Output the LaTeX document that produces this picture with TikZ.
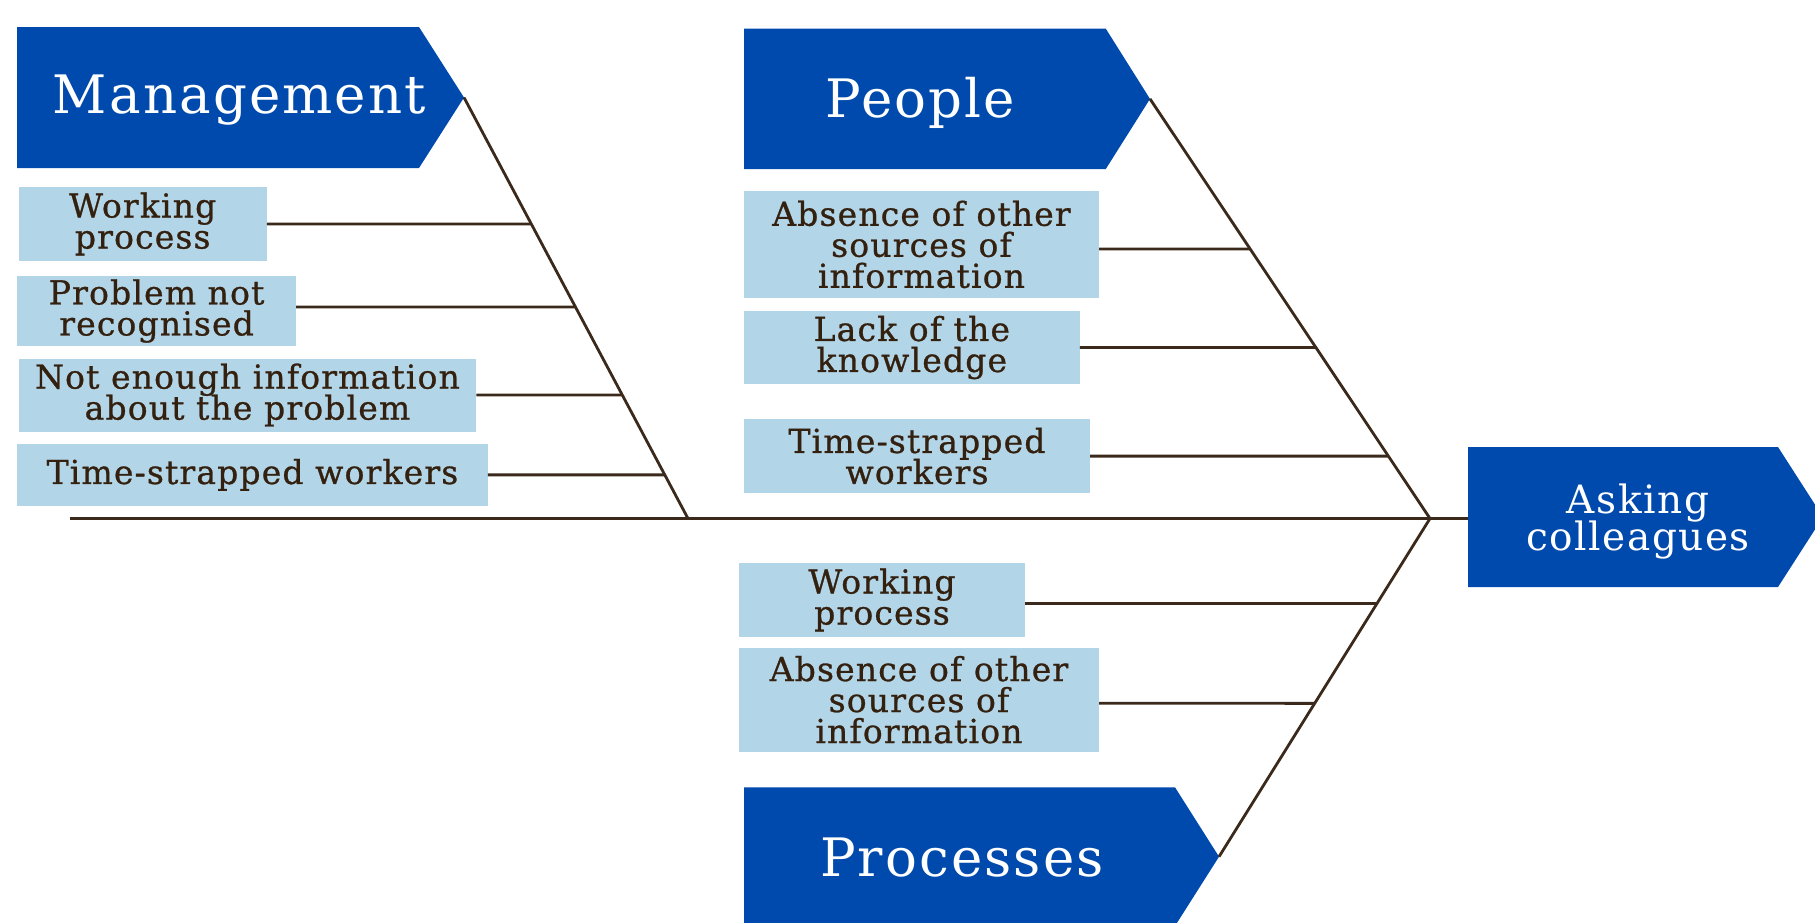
\documentclass[tikz,border=0pt]{standalone}
\usepackage{fontspec}
\newfontfamily\causeface[LetterSpace=3.5,FakeBold=0.8]{DejaVu Serif}
\newfontfamily\headface[LetterSpace=4]{DejaVu Serif}
\lineskiplimit=-100pt
\definecolor{navy}{HTML}{004AAD}
\definecolor{paleblue}{HTML}{B3D5E8}
\definecolor{ink}{HTML}{33200F}
\definecolor{bonecol}{HTML}{3B2A1C}

% a horizontal twig from a cause box to the bone it hangs on
\newcommand\twig[4]{%
  \coordinate (#1a) at ([yshift=#2]#1.east);
  \coordinate (#1b) at ([yshift=#2]#1.west);
  \draw[bone] (#1a) -- (intersection of #1a--#1b and #3--#4);
}

\begin{document}
\begin{tikzpicture}[x=1pt,y=-1pt,
  bone/.style={draw=bonecol,line width=2.8pt},
  cause/.style={fill=paleblue,inner sep=0pt,anchor=north west,align=center,
    text=ink,font=\causeface\fontsize{33}{31}\selectfont},
  head/.style={text=white,inner sep=0pt,align=center,
    font=\headface\fontsize{53}{50}\selectfont},
  sub head/.style={text=white,inner sep=0pt,align=center,
    font=\headface\fontsize{39}{36.7}\selectfont}]
\useasboundingbox (0,0) rectangle (1815,922);
\clip (0,0) rectangle (1815,922);

% category and effect arrows
\coordinate (mtip) at (464,97.5);
\coordinate (ptip) at (1150,98.9);
\coordinate (rtip) at (1219,856.7);
\coordinate (atip) at (1823,517);
\fill[navy] (17,27) -- (419,27) -- (mtip) -- (419,168) -- (17,168) -- cycle;
\fill[navy] (744,28.7) -- (1105.8,28.7) -- (ptip) -- (1105.8,169) -- (744,169) -- cycle;
\fill[navy] (744,787.3) -- (1175,787.3) -- (rtip) -- (1175,926) -- (744,926) -- cycle;
\fill[navy] (1468,447) -- (1778,447) -- (atip) -- (1778,587) -- (1468,587) -- cycle;

\node[head,anchor=base] (mgmt) at (239.5,113.6) {Management};
\node[head,anchor=base] (people) at (920.5,117.3) {People};
\node[head,anchor=base] (proc) at (962,876.7) {Processes};
\node[sub head] (ask) at (1638,521.5) {Asking\\colleagues};

% spine and main bones
\coordinate (tail) at (70,518.5);
\coordinate (mfoot) at (688,518.5);
\coordinate (jn) at (1430,518.5);
\coordinate (askin) at (1468,518.5);
\draw[bone] (tail) -- (askin);
\draw[bone] (mtip) -- (mfoot);
\draw[bone] (ptip) -- (jn) -- (rtip);

% management causes
\node[cause,minimum width=248,minimum height=74] (m1) at (18.5,186.7) {Working\\process};
\node[cause,minimum width=278.6,minimum height=69.7] (m2) at (17.1,276) {Problem not\\recognised};
\node[cause,minimum width=457.4,minimum height=73] (m3) at (18.6,358.3) {Not enough information\\about the problem};
\node[cause,minimum width=470.5,minimum height=62.7] (m4) at (17,443.3) {Time-strapped workers};

% people causes
\node[cause,minimum width=355,minimum height=106.5] (p1) at (743.8,191) {Absence of other\\sources of\\information};
\node[cause,minimum width=335.7,minimum height=72.7] (p2) at (743.8,311) {Lack of the\\knowledge};
\node[cause,minimum width=346,minimum height=73.4] (p3) at (743.8,419.2) {Time-strapped\\workers};

% process causes
\node[cause,minimum width=286,minimum height=74] (r1) at (738.8,562.7) {Working\\process};
\node[cause,minimum width=360,minimum height=104.4] (r2) at (738.8,647.3) {Absence of other\\sources of\\information};

\twig{m1}{0pt}{mtip}{mfoot}
\twig{m2}{4pt}{mtip}{mfoot}
\twig{m3}{0pt}{mtip}{mfoot}
\twig{m4}{0pt}{mtip}{mfoot}
\twig{p1}{-4.5pt}{ptip}{jn}
\twig{p2}{0pt}{ptip}{jn}
\twig{p3}{0pt}{ptip}{jn}
\twig{r1}{-3.6pt}{rtip}{jn}
\twig{r2}{-3.6pt}{rtip}{jn}
\end{tikzpicture}
\end{document}
